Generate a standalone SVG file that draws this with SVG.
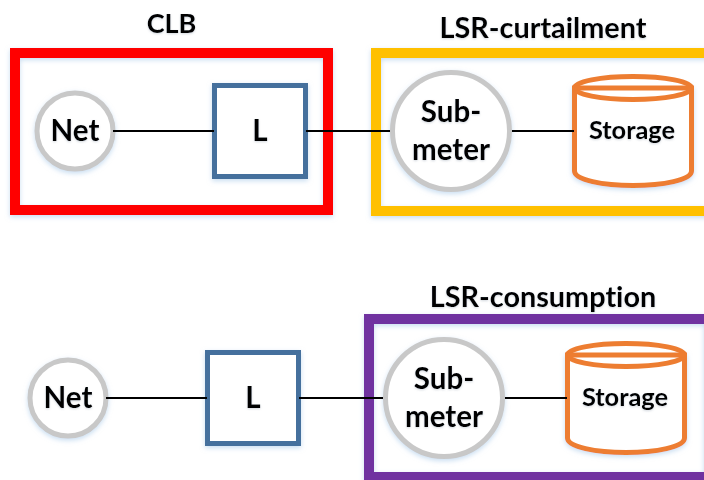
<svg xmlns="http://www.w3.org/2000/svg" width="704" height="480" viewBox="0 0 704 480">
<style>
text{font-family:Lato,"Open Sans","Liberation Sans",sans-serif;font-weight:700;fill:#000;text-anchor:middle;font-variant-ligatures:none}
.t{font-size:28.800px}.b{font-size:27px}.n{font-size:29.500px}.s{font-size:25.400px}
.f{fill:none;stroke-width:10}
.c{fill:#fff;stroke:#c8c8c8;stroke-width:5}
.l{fill:#fff;stroke:#44709d;stroke-width:5}
.o{fill:#fff;stroke:#ed7d31;stroke-width:5}
.o2{fill:none;stroke:#ed7d31;stroke-width:5}
.w{stroke:#000;stroke-width:2;fill:none}
.sh{filter:url(#sh)}
.ts{filter:url(#ts)}
</style>
<defs>
<filter id="sh" x="-15%" y="-15%" width="130%" height="130%"><feDropShadow dx="0" dy="2" stdDeviation="2.500" flood-color="#9dc3e6" flood-opacity="0.55"/></filter>
<filter id="ts" x="-15%" y="-25%" width="130%" height="150%"><feDropShadow dx="0" dy="1" stdDeviation="1.200" flood-color="#7f8f9f" flood-opacity="0.35"/></filter>
</defs>
<rect width="704" height="480" fill="#fff"/>
<g id="frame-clb"><rect class="f sh" x="15" y="53" width="313" height="157" stroke="#ff0000"/><text class="b ts" x="171.500" y="33">CLB</text></g>
<g id="frame-curtailment"><rect class="f sh" x="376" y="53" width="340" height="158" stroke="#ffc000"/><text class="t ts" x="543" y="38">LSR-curtailment</text></g>
<g id="frame-consumption"><rect class="f sh" x="369" y="319" width="340" height="158" stroke="#7030a0"/><text class="t ts" x="543" y="307">LSR-consumption</text></g>
<g id="net-1"><circle class="c sh" cx="75" cy="131" r="38"/><text class="n ts" x="75" y="141">Net</text></g>
<g id="load-1"><rect class="l sh" x="214.500" y="85.500" width="91" height="91"/><text class="n ts" x="260" y="141">L</text></g>
<g id="submeter-1"><circle class="c sh" cx="451" cy="131" r="58.500"/><text class="n ts" x="451" y="122">Sub-</text><text class="n ts" x="451" y="160">meter</text></g>
<g id="storage-1"><path class="o sh" d="M574.500 88V171C574.500 180 603 185.500 633 185.500S691.500 180 691.500 171V88Z"/><ellipse class="o" cx="633" cy="88" rx="58.500" ry="11.500"/><path class="o2" d="M574.500 88H691.500"/><text class="s ts" x="632" y="139">Storage</text></g>
<g id="net-2"><circle class="c sh" cx="68" cy="398" r="38"/><text class="n ts" x="68" y="408">Net</text></g>
<g id="load-2"><rect class="l sh" x="207.500" y="352.500" width="91" height="91"/><text class="n ts" x="253" y="408">L</text></g>
<g id="submeter-2"><circle class="c sh" cx="444" cy="398" r="58.500"/><text class="n ts" x="444" y="389">Sub-</text><text class="n ts" x="444" y="427">meter</text></g>
<g id="storage-2"><path class="o sh" d="M567.500 355V438C567.500 447 596 452.500 626 452.500S684.500 447 684.500 438V355Z"/><ellipse class="o" cx="626" cy="355" rx="58.500" ry="11.500"/><path class="o2" d="M567.500 355H684.500"/><text class="s ts" x="625" y="406">Storage</text></g>
<g id="connectors">
<path class="w" d="M113 131H214M306 131H390M512 131H574M106 398H207M299 398H383M505 398H567"/>
</g>
</svg>
